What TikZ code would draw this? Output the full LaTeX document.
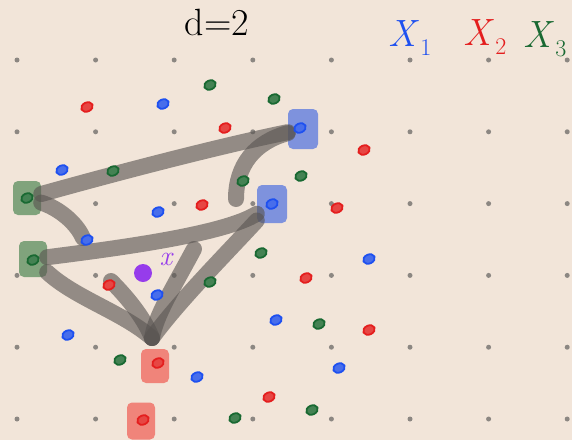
\documentclass[tikz,border=0pt]{standalone}
\usepackage{tikz}
\usetikzlibrary{shapes.geometric, positioning}
\definecolor{paper}{RGB}{242,229,217}
\definecolor{dotgray}{RGB}{140,135,130}
\definecolor{penblue}{RGB}{30,80,240}
\definecolor{penred}{RGB}{228,30,30}
\definecolor{pengreen}{RGB}{25,105,50}
\definecolor{penpurple}{RGB}{150,60,235}
\definecolor{inkgray}{RGB}{90,85,82}
\definecolor{boxgreen}{RGB}{128,163,124}
\definecolor{boxblue}{RGB}{126,146,221}
\definecolor{boxred}{RGB}{240,132,122}
\newcommand{\sublab}[1]{\kern1pt\raisebox{-9pt}{\fontsize{24}{24}\selectfont #1}}
\tikzset{
  gridpt/.style={circle, fill=dotgray, inner sep=0pt, minimum size=5pt},
  pt/.style={ellipse, draw=#1, fill=#1!80!paper, line width=1.8pt, inner sep=0pt, minimum width=12pt, minimum height=9pt, rotate=25},
  selbox/.style={rectangle, rounded corners=5pt, fill=#1, minimum width=28pt, minimum height=34pt, inner sep=0pt},
  linkstroke/.style={draw=inkgray, draw opacity=0.62, line width=16pt, line cap=round, line join=round},
  hand/.style={font=\fontsize{38}{40}\selectfont, inner sep=0pt}
}

\begin{document}
\begin{tikzpicture}[x=1pt, y=-1pt]
  \fill[paper] (0,0) rectangle (572,440);
  \useasboundingbox (0,0) rectangle (572,440);

  % grid of dots
  \foreach \i in {0,...,7}
    \foreach \j in {0,...,5}
      \node[gridpt] (d\i\j) at ({17+78.6*\i}, {60+71.8*\j}) {};

  % labels
  \node[hand] (title) at (217,22) {d=2};
  \node[hand, text=penblue] (xa) at (410,38) {\textit{X}\sublab{1}};
  \node[hand, text=penred] (xb) at (485,37) {\textit{X}\sublab{2}};
  \node[hand, text=pengreen] (xc) at (545,39) {\textit{X}\sublab{3}};

  % selected points
  \node[selbox=boxgreen] (g1) at (27,198) {};
  \node[selbox=boxgreen, minimum height=36pt] (g2) at (33,259) {};
  \node[selbox=boxblue, minimum width=30pt, minimum height=40pt] (b1) at (303,129) {};
  \node[selbox=boxblue, minimum width=30pt, minimum height=38pt] (b2) at (272,204) {};
  \node[selbox=boxred, minimum height=34pt] (r1) at (155,366) {};
  \node[selbox=boxred, minimum height=37pt] (r2) at (141,421) {};

  \coordinate (hub) at (152,338);
  \coordinate (e3) at (83,238);
  \coordinate (e5) at (111,281);
  \coordinate (e6) at (194,249);
  \coordinate (e8) at (236,199);

  % gray strokes
  \draw[linkstroke] (g1) .. controls (120,172) and (220,146) .. (b1);
  \draw[linkstroke] (g2) .. controls (120,248) and (225,234) .. (b2);
  \draw[linkstroke] (g1) .. controls (58,208) and (76,222) .. (e3);
  \draw[linkstroke] (g2) .. controls (75,298) and (122,312) .. (hub);
  \draw[linkstroke] (e5) .. controls (130,300) and (145,320) .. (hub);
  \draw[linkstroke] (e6) .. controls (172,290) and (156,315) .. (hub);
  \draw[linkstroke] (b2) .. controls (225,255) and (180,300) .. (hub);
  \draw[linkstroke] (b1) .. controls (255,142) and (236,165) .. (e8);

  % X_1 points
  \foreach \n/\p in {1/{163,104}, 2/{62,170}, 3/{158,212}, 4/{87,240}, 5/{157,295}, 6/{369,259},
                     7/{276,320}, 8/{68,335}, 9/{197,377}, 10/{339,368}, 11/{300,128}, 12/{272,204}}
    \node[pt=penblue] (p1\n) at (\p) {};
  % X_2 points
  \foreach \n/\p in {1/{87,107}, 2/{225,128}, 3/{364,150}, 4/{202,205}, 5/{337,208}, 6/{109,285},
                     7/{306,278}, 8/{369,330}, 9/{269,397}, 10/{158,363}, 11/{143,420}}
    \node[pt=penred] (p2\n) at (\p) {};
  % X_3 points
  \foreach \n/\p in {1/{210,85}, 2/{274,99}, 3/{113,171}, 4/{243,181}, 5/{301,176}, 6/{261,253},
                     7/{210,282}, 8/{319,324}, 9/{120,360}, 10/{235,418}, 11/{312,410}, 12/{27,198}, 13/{33,260}}
    \node[pt=pengreen] (p3\n) at (\p) {};

  % query point
  \node[circle, fill=penpurple, minimum size=18pt, inner sep=0pt] (q) at (143,273) {};
  \node[text=penpurple, font=\fontsize{28}{28}\selectfont\itshape, inner sep=0pt] (qx) at (166,259) {x};
\end{tikzpicture}
\end{document}
